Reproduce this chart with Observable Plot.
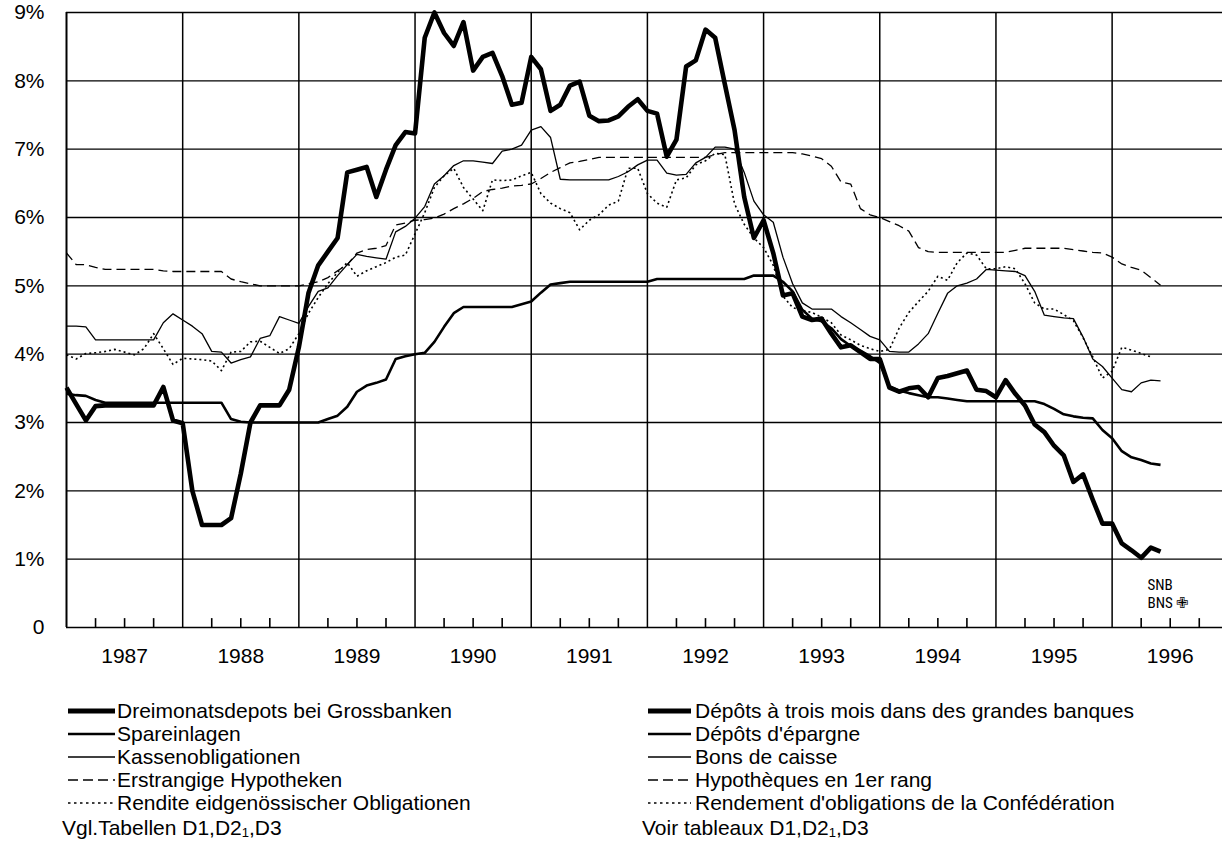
<!DOCTYPE html>
<html>
<head>
<meta charset="utf-8">
<script src="https://cdn.jsdelivr.net/npm/d3@7"></script>
<script src="https://cdn.jsdelivr.net/npm/@observablehq/plot@0.6"></script>
<style>
  html, body { margin: 0; padding: 0; background: #fff; }
  body { width: 1222px; height: 853px; overflow: hidden; font-family: "Liberation Sans", Arial, Helvetica, sans-serif; color: #000; }
  #chart svg { display: block; }
  #legend { position: relative; width: 1222px; height: 173px; font-size: 21px; }
  .row { position: absolute; height: 22px; line-height: 22px; white-space: nowrap; }
  .row svg { position: absolute; top: 0; }
  .row span { position: absolute; top: 0; }
  .note { position: absolute; font-size: 21px; line-height: 22px; white-space: nowrap; }
  sub { font-size: 13px; vertical-align: -2px; }
</style>
</head>
<body>
<div id="chart"></div>
<div id="legend"></div>
<script>
// Monthly values, first point = January 1987 (index 0), in percent
const years = [1987, 1988, 1989, 1990, 1991, 1992, 1993, 1994, 1995, 1996];
const yTicks = [0, 1, 2, 3, 4, 5, 6, 7, 8, 9];

const dreimonats = [
  3.51, 3.27, 3.03, 3.24, 3.25, 3.25, 3.25, 3.25, 3.25, 3.25, 3.52, 3.03,
  2.99, 2.00, 1.50, 1.50, 1.50, 1.60, 2.25, 3.00, 3.25, 3.25, 3.25, 3.48,
  4.10, 4.90, 5.30, 5.50, 5.70, 6.66, 6.70, 6.74, 6.30, 6.70, 7.06, 7.25,
  7.23, 8.63, 9.00, 8.70, 8.51, 8.86, 8.15, 8.35, 8.41, 8.07, 7.65, 7.68,
  8.35, 8.17, 7.56, 7.65, 7.93, 7.99, 7.49, 7.41, 7.42, 7.48, 7.62, 7.73,
  7.56, 7.52, 6.89, 7.14, 8.21, 8.30, 8.75, 8.63, 7.95, 7.28, 6.30, 5.70,
  5.96, 5.48, 4.86, 4.89, 4.55, 4.50, 4.52, 4.30, 4.10, 4.13, 4.03, 3.93,
  3.93, 3.51, 3.45, 3.50, 3.52, 3.37, 3.65, 3.68, 3.72, 3.76, 3.48, 3.46,
  3.37, 3.62, 3.42, 3.25, 2.97, 2.86, 2.66, 2.52, 2.13, 2.24, 1.87, 1.52,
  1.52, 1.23, 1.13, 1.02, 1.17, 1.11
];
const spareinlagen = [
  3.42, 3.40, 3.39, 3.33, 3.29, 3.29, 3.29, 3.29, 3.29, 3.29, 3.29, 3.29,
  3.29, 3.29, 3.29, 3.29, 3.29, 3.05, 3.01, 3.00, 3.00, 3.00, 3.00, 3.00,
  3.00, 3.00, 3.00, 3.05, 3.10, 3.23, 3.45, 3.54, 3.58, 3.63, 3.93, 3.97,
  4.00, 4.02, 4.18, 4.40, 4.60, 4.69, 4.69, 4.69, 4.69, 4.69, 4.69, 4.73,
  4.77, 4.90, 5.02, 5.04, 5.06, 5.06, 5.06, 5.06, 5.06, 5.06, 5.06, 5.06,
  5.06, 5.10, 5.10, 5.10, 5.10, 5.10, 5.10, 5.10, 5.10, 5.10, 5.10, 5.15,
  5.15, 5.15, 5.06, 4.92, 4.65, 4.52, 4.48, 4.38, 4.22, 4.12, 4.05, 3.97,
  3.87, 3.53, 3.47, 3.43, 3.40, 3.37, 3.37, 3.35, 3.33, 3.31, 3.31, 3.31,
  3.31, 3.31, 3.31, 3.31, 3.31, 3.27, 3.20, 3.12, 3.09, 3.07, 3.06, 2.89,
  2.77, 2.58, 2.49, 2.45, 2.40, 2.38
];
const kassenobligationen = [
  4.41, 4.41, 4.40, 4.21, 4.21, 4.21, 4.21, 4.21, 4.21, 4.21, 4.46, 4.59,
  4.50, 4.41, 4.30, 4.04, 4.03, 3.87, 3.92, 3.96, 4.23, 4.27, 4.55, 4.50,
  4.45, 4.70, 4.92, 4.97, 5.15, 5.31, 5.46, 5.43, 5.41, 5.39, 5.79, 5.87,
  5.99, 6.16, 6.49, 6.61, 6.76, 6.83, 6.83, 6.81, 6.79, 6.97, 7.00, 7.06,
  7.28, 7.33, 7.17, 6.56, 6.55, 6.55, 6.55, 6.55, 6.55, 6.60, 6.67, 6.77,
  6.84, 6.84, 6.65, 6.62, 6.63, 6.80, 6.88, 7.03, 7.03, 7.00, 6.66, 6.24,
  6.04, 5.93, 5.42, 5.03, 4.75, 4.66, 4.66, 4.66, 4.55, 4.46, 4.36, 4.26,
  4.21, 4.04, 4.03, 4.03, 4.15, 4.30, 4.60, 4.89, 5.00, 5.04, 5.10, 5.24,
  5.23, 5.22, 5.21, 5.15, 4.92, 4.57, 4.55, 4.53, 4.52, 4.25, 3.93, 3.82,
  3.65, 3.48, 3.45, 3.58, 3.62, 3.61
];
const hypotheken = [
  5.48, 5.31, 5.31, 5.27, 5.24, 5.24, 5.24, 5.24, 5.24, 5.24, 5.22, 5.21,
  5.21, 5.21, 5.21, 5.21, 5.21, 5.10, 5.06, 5.03, 5.00, 5.00, 5.00, 5.00,
  5.00, 5.03, 5.06, 5.12, 5.22, 5.31, 5.48, 5.53, 5.55, 5.59, 5.89, 5.92,
  5.96, 5.97, 5.99, 6.05, 6.13, 6.20, 6.28, 6.38, 6.41, 6.43, 6.46, 6.47,
  6.49, 6.57, 6.66, 6.73, 6.80, 6.82, 6.85, 6.88, 6.88, 6.88, 6.88, 6.88,
  6.88, 6.88, 6.88, 6.88, 6.88, 6.88, 6.88, 6.92, 6.95, 6.95, 6.95, 6.95,
  6.95, 6.95, 6.95, 6.95, 6.93, 6.90, 6.86, 6.75, 6.52, 6.49, 6.13, 6.04,
  6.00, 5.94, 5.88, 5.80, 5.56, 5.50, 5.49, 5.49, 5.49, 5.49, 5.49, 5.49,
  5.49, 5.49, 5.52, 5.55, 5.55, 5.55, 5.55, 5.55, 5.53, 5.51, 5.49, 5.48,
  5.42, 5.32, 5.27, 5.23, 5.12, 5.01
];
const rendite = [
  3.99, 3.93, 4.01, 4.02, 4.04, 4.07, 4.03, 3.99, 4.08, 4.30, 4.08, 3.85,
  3.94, 3.93, 3.92, 3.90, 3.76, 4.03, 4.04, 4.18, 4.19, 4.10, 4.01, 4.08,
  4.30, 4.60, 4.83, 5.03, 5.20, 5.34, 5.14, 5.22, 5.28, 5.34, 5.42, 5.45,
  5.76, 6.07, 6.44, 6.61, 6.72, 6.44, 6.27, 6.10, 6.55, 6.54, 6.55, 6.61,
  6.66, 6.35, 6.21, 6.13, 6.07, 5.82, 5.96, 6.04, 6.18, 6.24, 6.72, 6.72,
  6.35, 6.21, 6.15, 6.55, 6.58, 6.77, 6.83, 6.94, 6.92, 6.20, 5.90, 5.70,
  5.56, 5.30, 4.85, 4.68, 4.64, 4.61, 4.54, 4.46, 4.28, 4.21, 4.13, 4.08,
  4.04, 4.07, 4.38, 4.61, 4.77, 4.92, 5.14, 5.08, 5.34, 5.48, 5.45, 5.25,
  5.25, 5.28, 5.25, 5.03, 4.75, 4.66, 4.66, 4.58, 4.49, 4.24, 3.96, 3.65,
  3.75, 4.10, 4.06, 4.01, 3.96
];

const labelsDE = ["Dreimonatsdepots bei Grossbanken", "Spareinlagen", "Kassenobligationen", "Erstrangige Hypotheken", "Rendite eidgenössischer Obligationen"];
const labelsFR = ["Dépôts à trois mois dans des grandes banques", "Dépôts d'épargne", "Bons de caisse", "Hypothèques en 1er rang", "Rendement d'obligations de la Confédération"];

// derived positions (months since Jan 1987)
const yearStarts = years.slice(1).map(y => (y - years[0]) * 12);
const yearMids = years.map(y => (y - years[0]) * 12 + 6);
const quarterTicks = years.flatMap(y => [3, 6, 9].map(q => (y - years[0]) * 12 + q));

const styles = [
  {stroke: "#000", strokeWidth: 4.6},
  {stroke: "#000", strokeWidth: 2.6},
  {stroke: "#000", strokeWidth: 1.3},
  {stroke: "#000", strokeWidth: 1.3, strokeDasharray: "9,5"},
  {stroke: "#000", strokeWidth: 1.6, strokeDasharray: "2,3"}
];
const seriesData = [dreimonats, spareinlagen, kassenobligationen, hypotheken, rendite];

const font = '"Liberation Sans", Arial, Helvetica, sans-serif';
const narrow = '"Liberation Sans Narrow", "Roboto Condensed", "Liberation Sans", Arial, sans-serif';

const chart = Plot.plot({
  width: 1222,
  height: 680,
  marginLeft: 66,
  marginRight: 0,
  marginTop: 12,
  marginBottom: 53,
  style: {fontFamily: font, fontSize: "21px", color: "#000", background: "#fff", overflow: "visible"},
  x: {domain: [0, 119.4], axis: null},
  y: {domain: [0, 9], axis: null},
  marks: [
    Plot.ruleY(yTicks, {stroke: "#000", strokeWidth: 1.3}),
    Plot.ruleX(yearStarts, {stroke: "#000", strokeWidth: 1.5}),
    Plot.ruleX([0], {stroke: "#000", strokeWidth: 2}),
    Plot.ruleX(quarterTicks, {y1: 0, y2: 0.13, stroke: "#000", strokeWidth: 1.6}),
    Plot.axisY(yTicks, {tickSize: 0, tickPadding: 22, tickFormat: d => d === 0 ? "0" : d + "%", fontSize: 21}),
    Plot.axisX(yearMids, {tickSize: 0, tickPadding: 21, tickFormat: m => String(years[0] + Math.floor(m / 12)), fontSize: 21}),
    ...seriesData.map((s, k) => Plot.lineY(s, {...styles[k], strokeLinejoin: "round", strokeLinecap: "butt"})),
    Plot.text(["SNB"], {frameAnchor: "bottom-right", dx: -75, dy: -38, textAnchor: "start", fontSize: 15, fontFamily: narrow, fill: "#000"}),
    Plot.text(["BNS \u2719"], {frameAnchor: "bottom-right", dx: -75, dy: -20, textAnchor: "start", fontSize: 15, fontFamily: narrow, fill: "#000"})
  ]
});
document.getElementById("chart").appendChild(chart);

// Legend
const legend = document.getElementById("legend");
const rowCenters = [31, 54, 77, 100, 123];
function swatch(k, w) {
  const sw = k === 0 ? 5 : (k === 1 ? 2.6 : 1.4);
  const dash = k === 3 ? 'stroke-dasharray="10,5"' : (k === 4 ? 'stroke-dasharray="2.5,3.5"' : "");
  return `<svg width="${w}" height="22"><line x1="0" x2="${w}" y1="11" y2="11" stroke="#000" stroke-width="${sw}" ${dash}/></svg>`;
}
function addColumn(x0, w, textX, labels, note) {
  labels.forEach((lab, k) => {
    const r = document.createElement("div");
    r.className = "row";
    r.style.left = x0 + "px";
    r.style.top = (rowCenters[k] - 11) + "px";
    r.innerHTML = swatch(k, w) + `<span style="left:${textX - x0}px">${lab}</span>`;
    legend.appendChild(r);
  });
  const n = document.createElement("div");
  n.className = "note";
  n.style.left = (x0 - 6) + "px";
  n.style.top = (148 - 11) + "px";
  n.innerHTML = note;
  legend.appendChild(n);
}
addColumn(68, 47, 117, labelsDE, "Vgl.Tabellen D1,D2<sub>1</sub>,D3");
addColumn(648, 43, 695, labelsFR, "Voir tableaux D1,D2<sub>1</sub>,D3");
</script>
</body>
</html>
